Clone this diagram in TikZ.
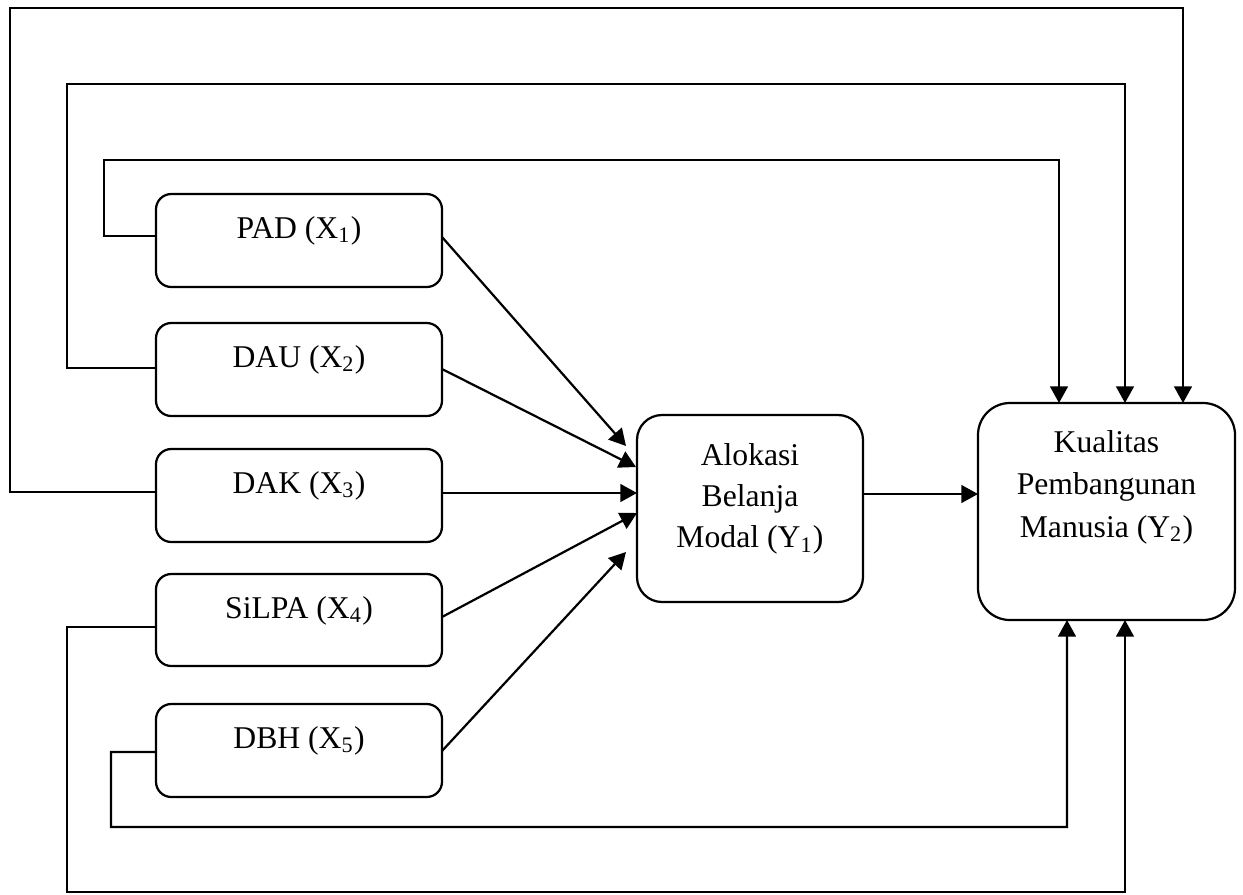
\documentclass[tikz,border=0pt]{standalone}
\usepackage{fontspec}
\setmainfont{Liberation Serif}
\usetikzlibrary{arrows.meta,calc}
\begin{document}
\begin{tikzpicture}[x=0.36pt,y=-0.36pt,
  line width=0.8pt,
  box/.style={draw, rounded corners=5.5pt, inner sep=0pt, outer sep=0pt,
              minimum width=102.96pt, minimum height=33.48pt},
  midbox/.style={draw, rounded corners=9pt, inner sep=0pt, outer sep=0pt,
              minimum width=81.36pt, minimum height=67.32pt},
  bigbox/.style={draw, rounded corners=11.5pt, inner sep=0pt, outer sep=0pt,
              minimum width=92.52pt, minimum height=78.12pt},
  txt/.style={anchor=base, inner sep=0pt, font=\fontsize{11.4}{13.7}\selectfont},
  conn/.style={-{Triangle[length=6pt,width=6.4pt]}},
]
\useasboundingbox (0,0) rectangle (1243,894);

% boxes
\node[box] (pad) at (299,240.5) {};
\node[box] (dau) at (299,369.5) {};
\node[box] (dak) at (299,495.5) {};
\node[box, minimum height=33.12pt] (silpa) at (299,620) {};
\node[box] (dbh) at (299,750.5) {};
\node[midbox] (mid) at (750,508.5) {};
\node[bigbox] (kp) at (1106.5,511.5) {};

% texts
\node[txt] (tpad) at (299,238) {PAD (X\textsubscript{1})};
\node[txt] (tdau) at (299,367) {DAU (X\textsubscript{2})};
\node[txt] (tdak) at (299,493) {DAK (X\textsubscript{3})};
\node[txt] (tsilpa) at (299,618) {SiLPA (X\textsubscript{4})};
\node[txt] (tdbh) at (299,748) {DBH (X\textsubscript{5})};

\node[txt] (tm1) at (750,465) {Alokasi};
\node[txt] (tm2) at (750,506) {Belanja};
\node[txt] (tm3) at (750,547.5) {Modal (Y\textsubscript{1})};

\node[txt] (tk1) at (1106.5,452) {Kualitas};
\node[txt] (tk2) at (1106.5,494.5) {Pembangunan};
\node[txt] (tk3) at (1106.5,537) {Manusia (Y\textsubscript{2})};

% arrows into the middle box
\draw[conn] ($(pad.east)+(0,-3.5)$) -- ($(mid.west)+(-11,-62.5)$);
\draw[conn] ($(dau.east)+(0,-0.5)$) -- ($(mid.west)+(-1,-41.5)$);
\draw[conn] ($(dak.east)+(0,-2.5)$) -- ($(mid.west)+(0,-15.5)$);
\draw[conn] ($(silpa.east)+(0,-3)$) -- ($(mid.west)+(0,4.5)$);
\draw[conn] ($(dbh.east)+(0,0.5)$) -- ($(mid.west)+(-11,43.5)$);

% middle to right
\draw[conn] ($(mid.east)+(0,-14.5)$) -- ($(kp.west)+(0,-17.5)$);

% loops over the top
\draw[conn] ($(pad.west)+(0,-4.5)$) -- (104,236) -- (104,160) -- (1059,160) -- (1059,0 |- kp.north);
\draw[conn] ($(dau.west)+(0,-1.5)$) -- (67,368) -- (67,84) -- (1125,84) -- (1125,0 |- kp.north);
\draw[conn] ($(dak.west)+(0,-3.5)$) -- (10,492) -- (10,8) -- (1183,8) -- (1183,0 |- kp.north);

% loops under the bottom
\draw[conn] ($(silpa.west)+(0,7)$) -- (67,627) -- (67,892) -- (1125,892) -- (1125,0 |- kp.south);
\draw[conn] ($(dbh.west)+(0,1.5)$) -- (111,752) -- (111,827) -- (1067,827) -- (1067,0 |- kp.south);
\end{tikzpicture}
\end{document}
